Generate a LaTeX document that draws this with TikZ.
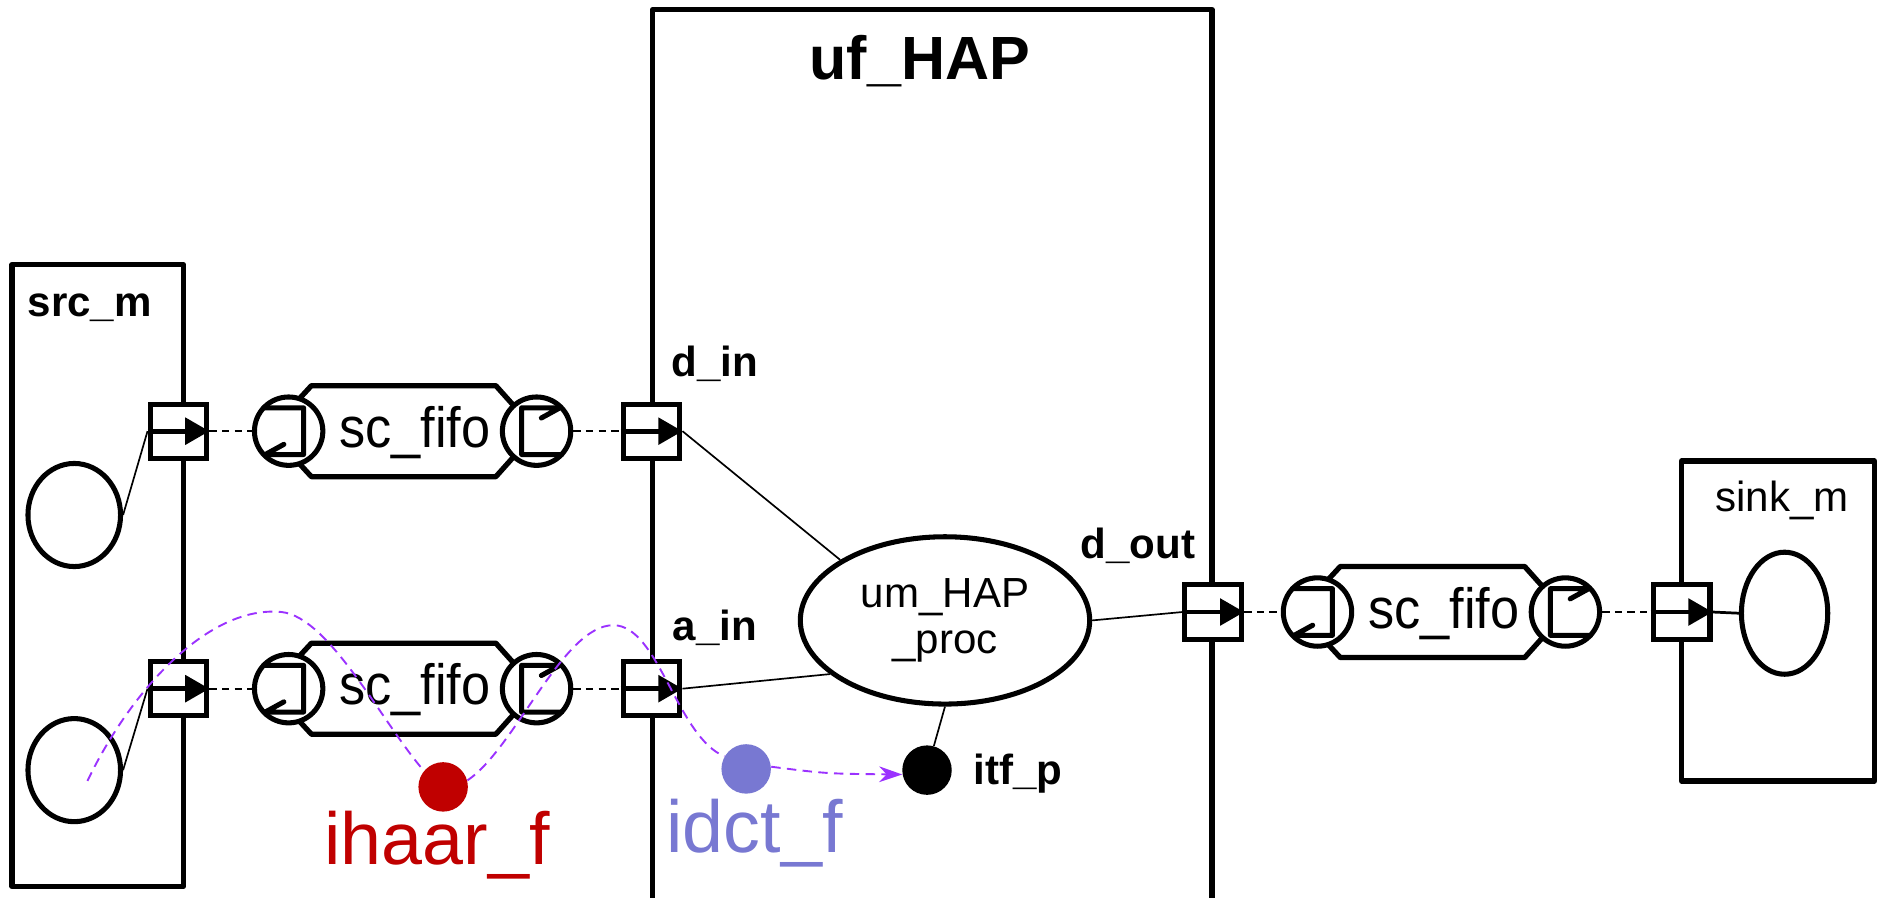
\documentclass[tikz,border=0pt]{standalone}
\usepackage{fontspec}
\setmainfont{Liberation Sans}
\newfontfamily\narrowsans[FakeStretch=0.92]{Liberation Sans}
\usepackage{tikz}
\usetikzlibrary{calc}
\usetikzlibrary{shapes.geometric}
\usetikzlibrary{arrows.meta}
\usetikzlibrary{positioning}

\definecolor{haarred}{RGB}{192,0,0}
\definecolor{idctblue}{RGB}{120,120,210}
\definecolor{flowviolet}{RGB}{155,50,255}

\newcommand{\lblfont}{\bfseries\fontsize{20}{24}\selectfont}
\newcommand{\fifofont}{\narrowsans\fontsize{27}{30}\selectfont}

\begin{document}
\begin{tikzpicture}[x=0.02cm, y=-0.02cm]
		
		\tikzset{
			box/.style={line width=2.5pt, line join=round},
			port/.style={draw, line width=2.4pt, fill=white, inner sep=0pt,
				minimum width=27pt, minimum height=25.8pt},
			portarrow/.style={line width=2.3pt, -{Triangle[length=11.5pt, width=12.5pt]}},
			beh/.style={draw, ellipse, line width=2.4pt, fill=white, inner sep=0pt},
			fifoend/.style={draw, ellipse, line width=2.4pt, fill=white, inner sep=0pt,
				minimum width=32.5pt, minimum height=32.5pt},
			turn/.style={line width=2.4pt, line join=round, line cap=round},
			lbl/.style={font=\lblfont, inner sep=0pt},
			link/.style={line width=0.8pt},
			chan/.style={line width=0.8pt, dash pattern=on 3.5pt off 2.5pt},
			flow/.style={draw=flowviolet, line width=0.9pt, dash pattern=on 4.5pt off 3pt},
			dot/.style={circle, inner sep=0pt, minimum size=23.5pt}
		}
		
		% --- sc_fifo channel: name, left end x, right end x, y ---
		\newcommand{\fifo}[4]{
			\draw[box, fill=white] (#2-16,#4) -- (#2+19,#4-38) -- (#3-34,#4-38) -- (#3,#4)
				-- (#3-34,#4+38) -- (#2+19,#4+38) -- cycle;
			\node[font=\fifofont, inner sep=0pt] (#1t) at ({(#2+#3)/2+2},#4+1) {sc\_fifo};
			\node[fifoend] (#1l) at (#2,#4) {};
			\node[fifoend] (#1r) at (#3,#4) {};
			\draw[turn] ($(#1l)+(-21,-19.5)$) -- ++(33.5,0) -- ++(0,39) -- ++(-32,0) -- ++(15.5,-8.5);
			\draw[turn] ($(#1r)+(21,19.5)$) -- ++(-33.5,0) -- ++(0,-39) -- ++(32,0) -- ++(-15.5,8.5);
		}
		
		\useasboundingbox (0,0) rectangle (1568,749);
		
		% modules
		\draw[box] (10,221) rectangle (153,740);
		\node[lbl] (srclbl) at (75,257) {src\_m};
		\draw[box] (545,760) -- (545,8) -- (1012,8) -- (1012,760);
		\node[font=\bfseries\fontsize{29}{34}\selectfont, inner sep=0pt] (haplbl) at (768,51) {uf\_HAP};
		\draw[box] (1404,385) rectangle (1565,652);
		\node[font=\fontsize{20}{24}\selectfont, inner sep=0pt] (sinklbl) at (1488,418) {sink\_m};
		
		% behaviours
		\node[beh, minimum width=44pt, minimum height=49pt] (srcb1) at (62,430) {};
		\node[beh, minimum width=44pt, minimum height=49pt] (srcb2) at (62,643) {};
		\node[beh, minimum width=41pt, minimum height=58pt] (sinkb) at (1490,512) {};
		\node[beh, minimum width=137.5pt, minimum height=79.5pt, align=center,
			font=\fontsize{20}{22}\selectfont] (proc) at (789,518) {um\_HAP\\\_proc};
		
		% ports
		\node[port] (srcout1) at (149,360) {};
		\node[port] (srcout2) at (149,575) {};
		\node[port] (din) at (544,360) {};
		\node[port] (ain) at (544,575) {};
		\node[port] (dout) at (1013,511) {};
		\node[port] (sinkin) at (1404,511) {};
		\foreach \p in {srcout1,srcout2,din,ain,dout,sinkin}
			\draw[portarrow] (\p.west) -- (\p.east);
		
		\node[lbl] (dinlbl) at (597,304) {d\_in};
		\node[lbl] (ainlbl) at (597,524) {a\_in};
		\node[lbl] (doutlbl) at (950,456) {d\_out};
		
		% channels
		\fifo{fa}{241}{448}{360}
		\fifo{fb}{241}{448}{575}
		\fifo{fc}{1100}{1307}{511}
		
		\draw[chan] (srcout1.east) -- (fal.west);
		\draw[chan] (far.east) -- (din.west);
		\draw[chan] (srcout2.east) -- (fbl.west);
		\draw[chan] (fbr.east) -- (ain.west);
		\draw[chan] (dout.east) -- (fcl.west);
		\draw[chan] (fcr.east) -- (sinkin.west);
		
		% interface and functions
		\node[dot, fill=black] (itf) at (774,643) {};
		\node[lbl] (itflbl) at (850,646) {itf\_p};
		\node[dot, fill=idctblue] (idct) at (623,642) {};
		\node[font=\fontsize{35}{40}\selectfont, text=idctblue, inner sep=0pt] (idctlbl) at (630,696) {idct\_f};
		\node[dot, fill=haarred] (ihaar) at (370,657) {};
		\node[font=\fontsize{35}{40}\selectfont, text=haarred, inner sep=0pt] (ihaarlbl) at (365,706) {ihaar\_f};
		
		% bindings
		\draw[link] (srcb1.east) -- (srcout1.west);
		\draw[link] (srcb2.east) -- (srcout2.west);
		\draw[link] (din.east) -- (proc.150);
		\draw[link] (ain.east) -- (proc.205);
		\draw[link] (proc.east) -- (dout.west);
		\draw[link] (proc.south) -- (itf);
		\draw[line width=1.3pt] (sinkin.east) -- (sinkb.west);
		
		% execution flow
		\coordinate (fstart) at (73,652);
		\draw[flow] (fstart) .. controls (110,575) and (175,505) .. (235,511)
			.. controls (275,515) and (320,605) .. (ihaar.140);
		\draw[flow] (ihaar.15) .. controls (430,625) and (470,522) .. (512,522)
			.. controls (550,522) and (565,615) .. (idct.150);
		\draw[flow, -{Stealth[length=11pt, width=7.5pt]}] (idct.5) .. controls (690,646) .. (itf.190);
		
\end{tikzpicture}
\end{document}
